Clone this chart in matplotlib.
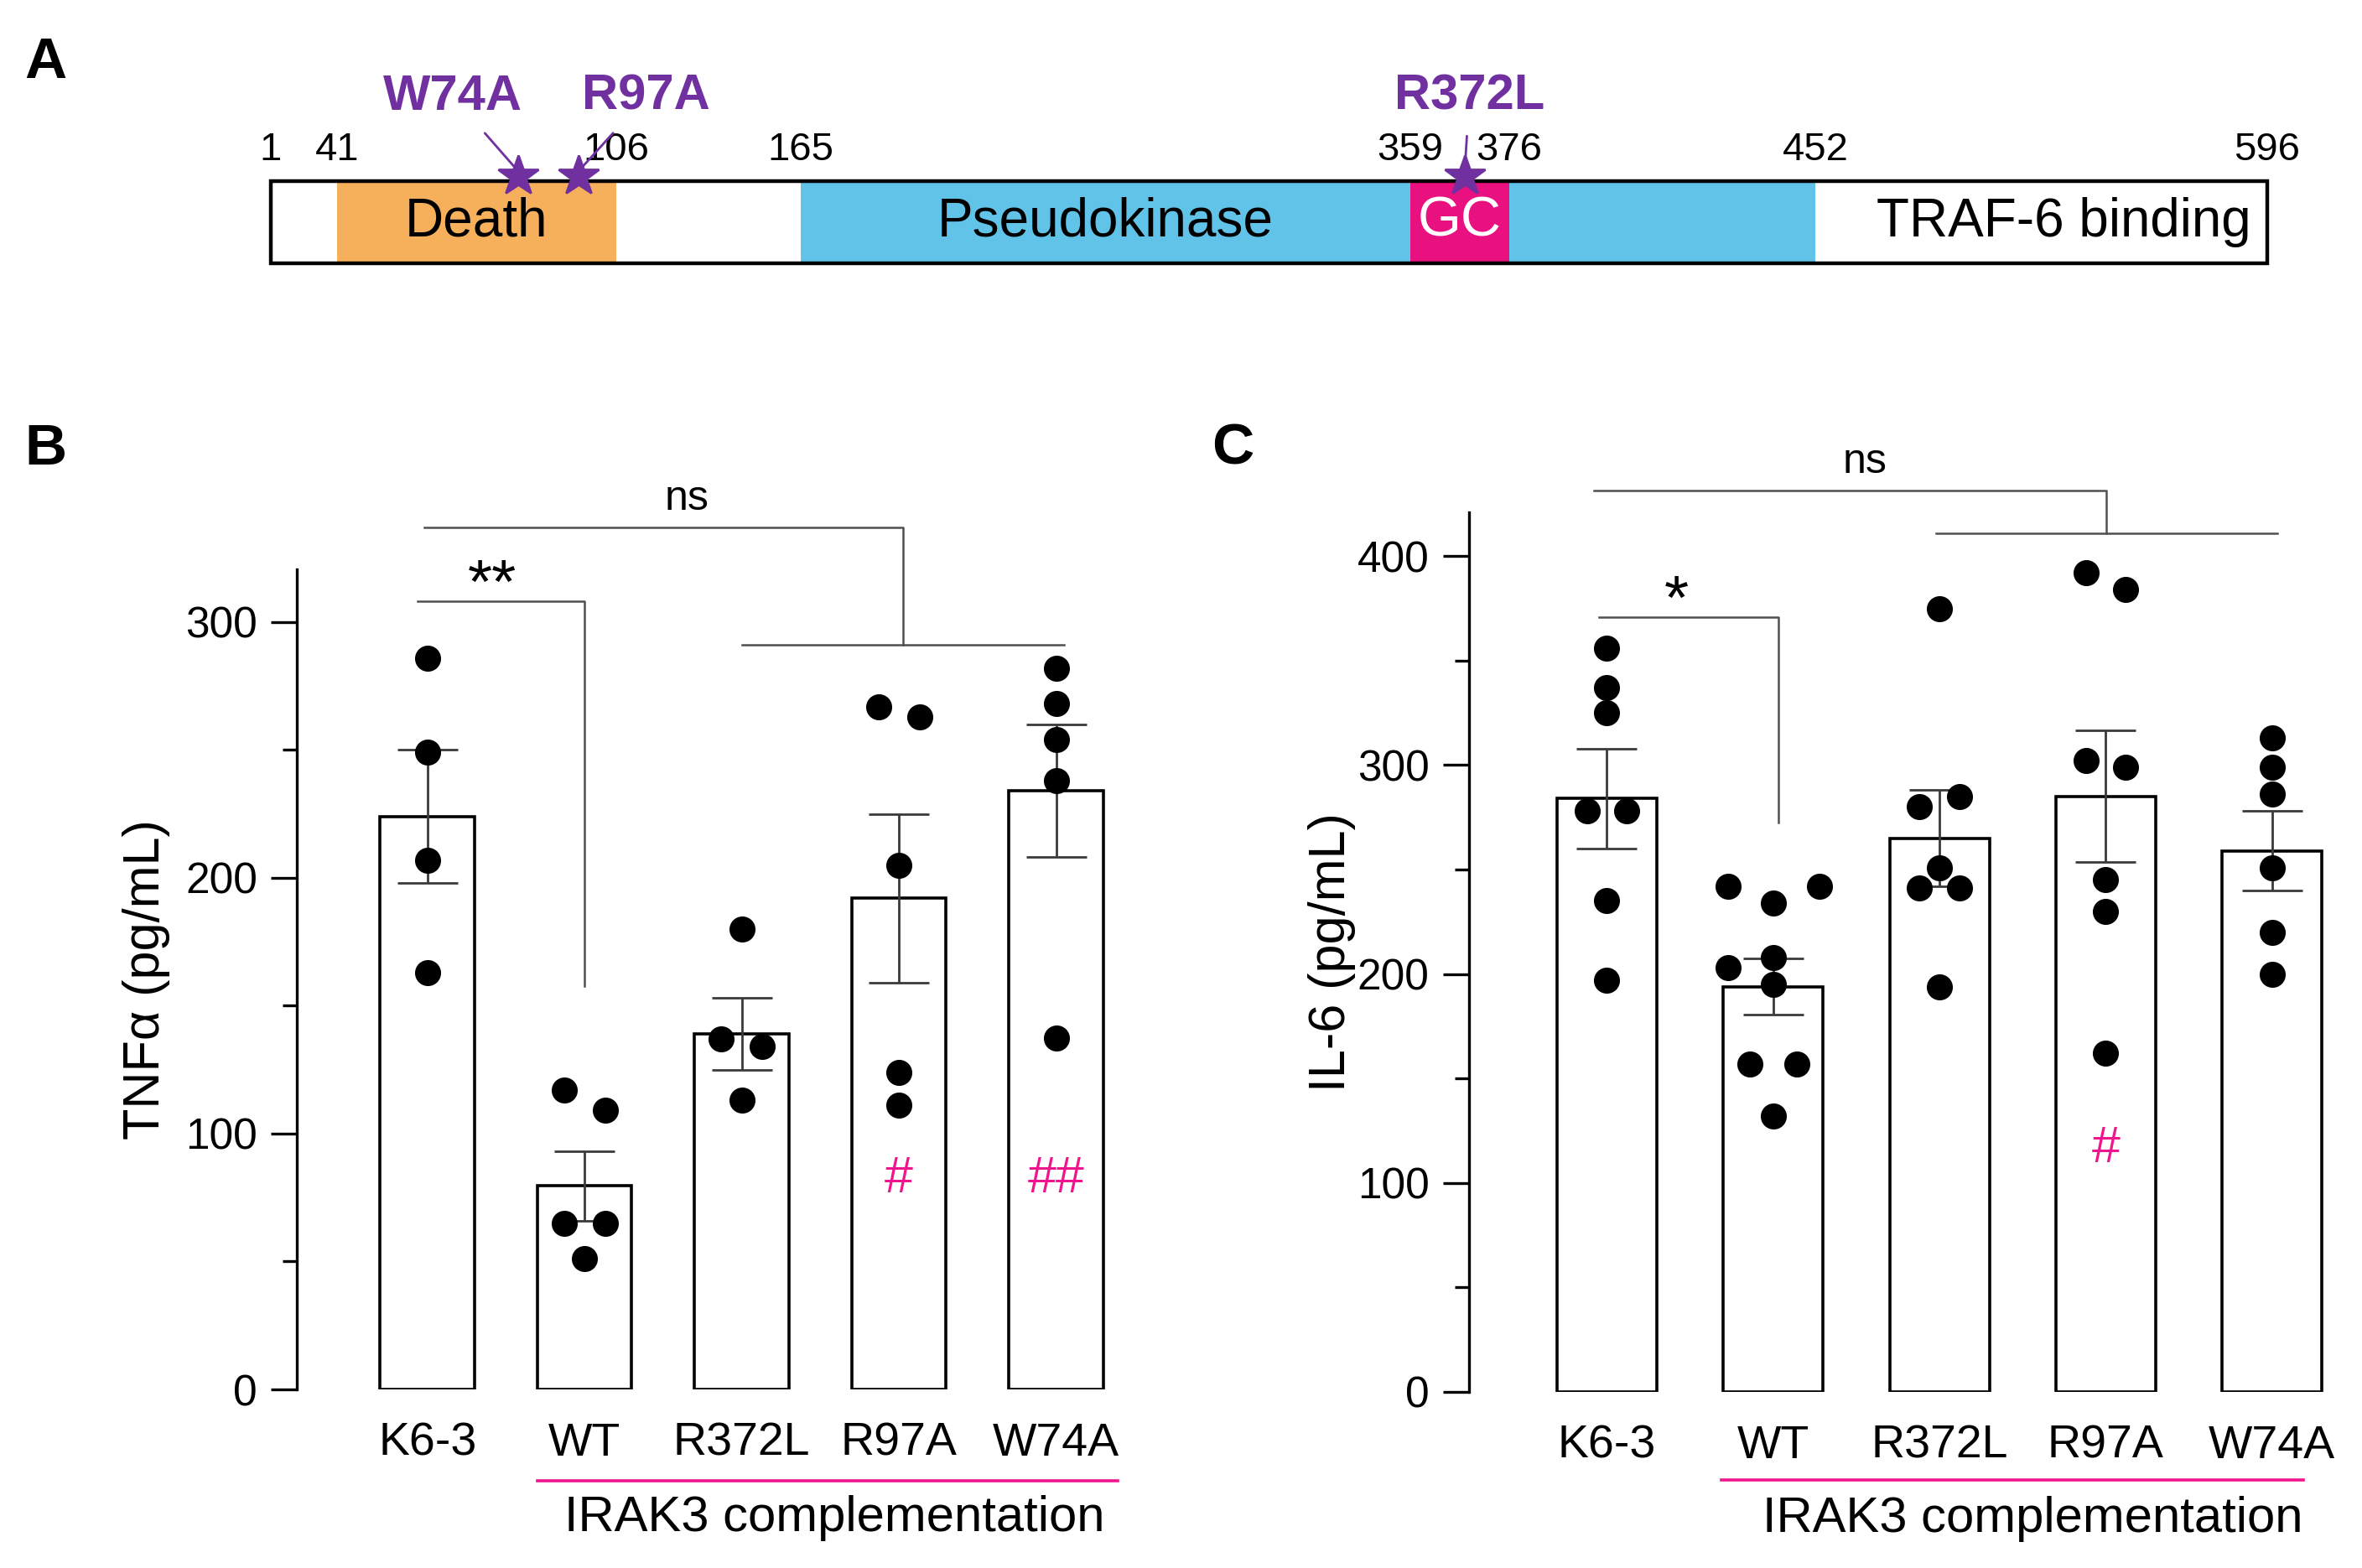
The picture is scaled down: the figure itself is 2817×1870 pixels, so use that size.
import matplotlib
matplotlib.use("Agg")
import matplotlib.pyplot as plt
import matplotlib.transforms as mtransforms
from matplotlib.patches import Rectangle
from matplotlib.ticker import MultipleLocator
import numpy as np

plt.rcParams["font.family"] = ["Liberation Sans", "DejaVu Sans"]

# ---------------------------------------------------------------------------
# Data
# ---------------------------------------------------------------------------
# panel A: IRAK3 domain map (residue numbers)
RESIDUES = [1, 41, 106, 165, 359, 376, 452, 596]
DOMAINS = [("Death", 41, 106), ("Pseudokinase", 165, 452), ("GC", 359, 376)]
MUTATIONS = ["W74A", "R97A", "R372L"]

# panels B / C
GROUPS = ["K6-3", "WT", "R372L", "R97A", "W74A"]

TNF_MEAN = [224, 79.5, 139, 192, 234]
TNF_SEM = [26, 13.5, 14, 33, 26]
TNF_POINTS = [
    [286, 249, 207, 163],
    [117, 109, 65, 65, 51],
    [180, 137, 134, 113],
    [267, 263, 205, 124, 111],
    [282, 268, 254, 238, 137.5],
]
TNF_HASH = ["", "", "", "#", "##"]
TNF_HASH_Y = 82

IL6_MEAN = [284, 194, 265, 285, 259]
IL6_SEM = [24, 13.5, 23, 31.5, 19]
IL6_POINTS = [
    [356, 337, 325, 278, 278, 235, 197],
    [242, 242, 234, 208, 203, 195, 157, 157, 132],
    [375, 285, 280, 251, 241, 241, 194],
    [392, 384, 302, 299, 245, 230, 162],
    [313, 299, 286, 251, 220, 200],
]
IL6_HASH = ["", "", "", "#", ""]
IL6_HASH_Y = 116

# ---------------------------------------------------------------------------
# Layout / style
# ---------------------------------------------------------------------------
# drawn position (fraction of the bar) of each residue boundary; schematic, not to scale
RESIDUE_DRAW = [0, 0.0332, 0.173, 0.2654, 0.5708, 0.6203, 0.7736, 1.0]
# drawn position of each mutation star and its label offset (points)
MUT_DRAW = [0.1239, 0.1541, 0.598]
MUT_LABEL_OFFSET = [(-28, 32), (29, 32), (2, 32)]

TNF_JITTER = [
    [0, 0, 0, 0],
    [-0.13, 0.13, -0.13, 0.13, 0],
    [0, -0.13, 0.13, 0],
    [-0.13, 0.13, 0, 0, 0],
    [0, 0, 0, 0, 0],
]
IL6_JITTER = [
    [0, 0, 0, -0.12, 0.12, 0, 0],
    [-0.27, 0.28, 0, 0, -0.27, 0, -0.14, 0.14, 0],
    [0, 0.12, -0.12, 0, -0.12, 0.12, 0],
    [-0.12, 0.12, -0.12, 0.12, 0, 0, 0],
    [0, 0, 0, 0, 0, 0],
]

PURPLE = "#7030a0"
ORANGE = "#f6b05c"
BLUE = "#62c3e9"
MAGENTA = "#e8117f"
HASH_PINK = "#f0158e"
BRACKET = "#505050"


def draw_domain_map(fig):
    ax = fig.add_axes([0.11466, 0.83209, 0.84523, 0.05241])
    ax.set_xlim(0, 1)
    ax.set_ylim(0, 1)
    ax.axis("off")

    def pos(r):
        return np.interp(r, RESIDUES, RESIDUE_DRAW)

    fills = {"Death": ORANGE, "Pseudokinase": BLUE, "GC": MAGENTA}
    for name, start, end in DOMAINS:
        ax.add_patch(Rectangle((pos(start), 0), pos(end) - pos(start), 1,
                               facecolor=fills[name], edgecolor="none", zorder=1))
    ax.add_patch(Rectangle((0, 0), 1, 1, facecolor="none", edgecolor="black",
                           lw=1.6, zorder=3, clip_on=False))

    ax.text((pos(41) + pos(106)) / 2, 0.5, "Death", ha="center", va="center",
            fontsize=23, zorder=4)
    ax.text((pos(165) + pos(359)) / 2, 0.5, "Pseudokinase", ha="center", va="center",
            fontsize=23, zorder=4)
    ax.text((pos(359) + pos(376)) / 2, 0.5, "GC", ha="center", va="center",
            fontsize=24, color="white", zorder=4)
    ax.text(pos(596) - 0.008, 0.5, "TRAF-6 binding", ha="right", va="center",
            fontsize=23, zorder=4)

    for r in RESIDUES:
        ax.annotate(str(r), xy=(pos(r), 1), xytext=(0, 9), textcoords="offset points",
                    ha="center", va="baseline", fontsize=17, annotation_clip=False)

    for name, x, (dx, dy) in zip(MUTATIONS, MUT_DRAW, MUT_LABEL_OFFSET):
        ax.plot([x], [1.06], marker="*", markersize=18, color=PURPLE, zorder=5, clip_on=False)
        ax.annotate(name, xy=(x, 1.12), xytext=(dx, dy), textcoords="offset points",
                    ha="center", va="center", fontsize=21.5, fontweight="bold", color=PURPLE,
                    annotation_clip=False,
                    arrowprops=dict(arrowstyle="-", color=PURPLE, lw=1.0,
                                    shrinkA=5, shrinkB=2))


def bar_panel(fig, rect, means, sems, points, jitter, hashes, hash_y, ylim_top,
              major, ylabel, ylabel_x, underline, label_x, label_y, line_y):
    ax = fig.add_axes(rect)
    x = np.arange(len(GROUPS))
    ax.bar(x, means, width=0.6, facecolor="white", edgecolor="black", lw=1.3, zorder=1)
    ax.errorbar(x, means, yerr=sems, fmt="none", ecolor="#3a3a3a", elinewidth=1.0,
                capsize=13, capthick=1.0, zorder=2)
    for i, (pts, jit) in enumerate(zip(points, jitter)):
        ax.scatter(i + np.array(jit), pts, s=125, color="black", zorder=3, linewidths=0)
    for i, h in enumerate(hashes):
        if h:
            ax.text(i, hash_y, h, ha="center", va="center", fontsize=22, color=HASH_PINK)

    ax.set_xlim(-0.83, 4.45)
    ax.set_ylim(0, ylim_top)
    ax.set_xticks(x)
    ax.set_xticklabels(GROUPS, fontsize=20)
    ax.tick_params(axis="x", length=0, pad=14)
    ax.yaxis.set_major_locator(MultipleLocator(major))
    ax.yaxis.set_minor_locator(MultipleLocator(major / 2))
    ax.tick_params(axis="y", which="major", length=11, width=1.2, labelsize=18.5, pad=6)
    ax.tick_params(axis="y", which="minor", length=6, width=1.2)
    for s in ("top", "right", "bottom"):
        ax.spines[s].set_visible(False)
    ax.spines["left"].set_linewidth(1.2)
    ax.set_ylabel(ylabel, fontsize=22)
    ax.yaxis.set_label_coords(ylabel_x, 0.5)

    trans = mtransforms.blended_transform_factory(ax.transData, ax.transAxes)
    ax.plot(underline, [line_y, line_y], color=HASH_PINK, lw=1.3, transform=trans,
            clip_on=False)
    ax.text(label_x, label_y, "IRAK3 complementation", transform=trans, ha="center",
            va="center", fontsize=21.5)
    return ax


def bracket(ax, x0, x1, y, drop, text, tx, ty, fs):
    ax.plot([x0, x1, x1], [y, y, drop], color=BRACKET, lw=0.9, clip_on=False)
    ax.text(tx, ty, text, ha="center", va="center", fontsize=fs)


def group_bracket(ax, xl, y_top, g0, g1, y_low, text, tx, ty):
    mid = (g0 + g1) / 2
    ax.plot([xl, mid, mid], [y_top, y_top, y_low], color=BRACKET, lw=0.9, clip_on=False)
    ax.plot([g0, g1], [y_low, y_low], color=BRACKET, lw=0.9, clip_on=False)
    ax.text(tx, ty, text, ha="center", va="center", fontsize=18)


def main():
    fig = plt.figure(figsize=(14.085, 9.35), dpi=200)

    draw_domain_map(fig)

    axb = bar_panel(fig, [0.1257, 0.1139, 0.3514, 0.523], TNF_MEAN, TNF_SEM, TNF_POINTS,
                    TNF_JITTER, TNF_HASH, TNF_HASH_Y, 320.6, 100, "TNFα (pg/mL)",
                    -0.153, [0.7, 4.39], 2.59, -0.157, -0.111)
    group_bracket(axb, -0.02, 337, 2.0, 4.05, 291, "ns", 1.65, 348)
    bracket(axb, -0.06, 1.0, 308, 157.6, "**", 0.41, 314, 27)

    axc = bar_panel(fig, [0.6219, 0.1123, 0.3717, 0.561], IL6_MEAN, IL6_SEM, IL6_POINTS,
                    IL6_JITTER, IL6_HASH, IL6_HASH_Y, 421, 100, "IL-6 (pg/mL)",
                    -0.129, [0.69, 4.19], 2.56, -0.144, -0.100)
    group_bracket(axc, -0.08, 431.5, 1.98, 4.03, 411, "ns", 1.55, 445)
    bracket(axc, -0.05, 1.03, 371, 272.5, "*", 0.42, 378, 27)

    for letter, fx, fy in [("A", 0.0192, 0.9599), ("B", 0.0192, 0.7134), ("C", 0.5218, 0.7134)]:
        fig.text(fx, fy, letter, fontsize=25, fontweight="bold", ha="center", va="center")

    fig.savefig("out.png", dpi=200, facecolor="white")


if __name__ == "__main__":
    main()
